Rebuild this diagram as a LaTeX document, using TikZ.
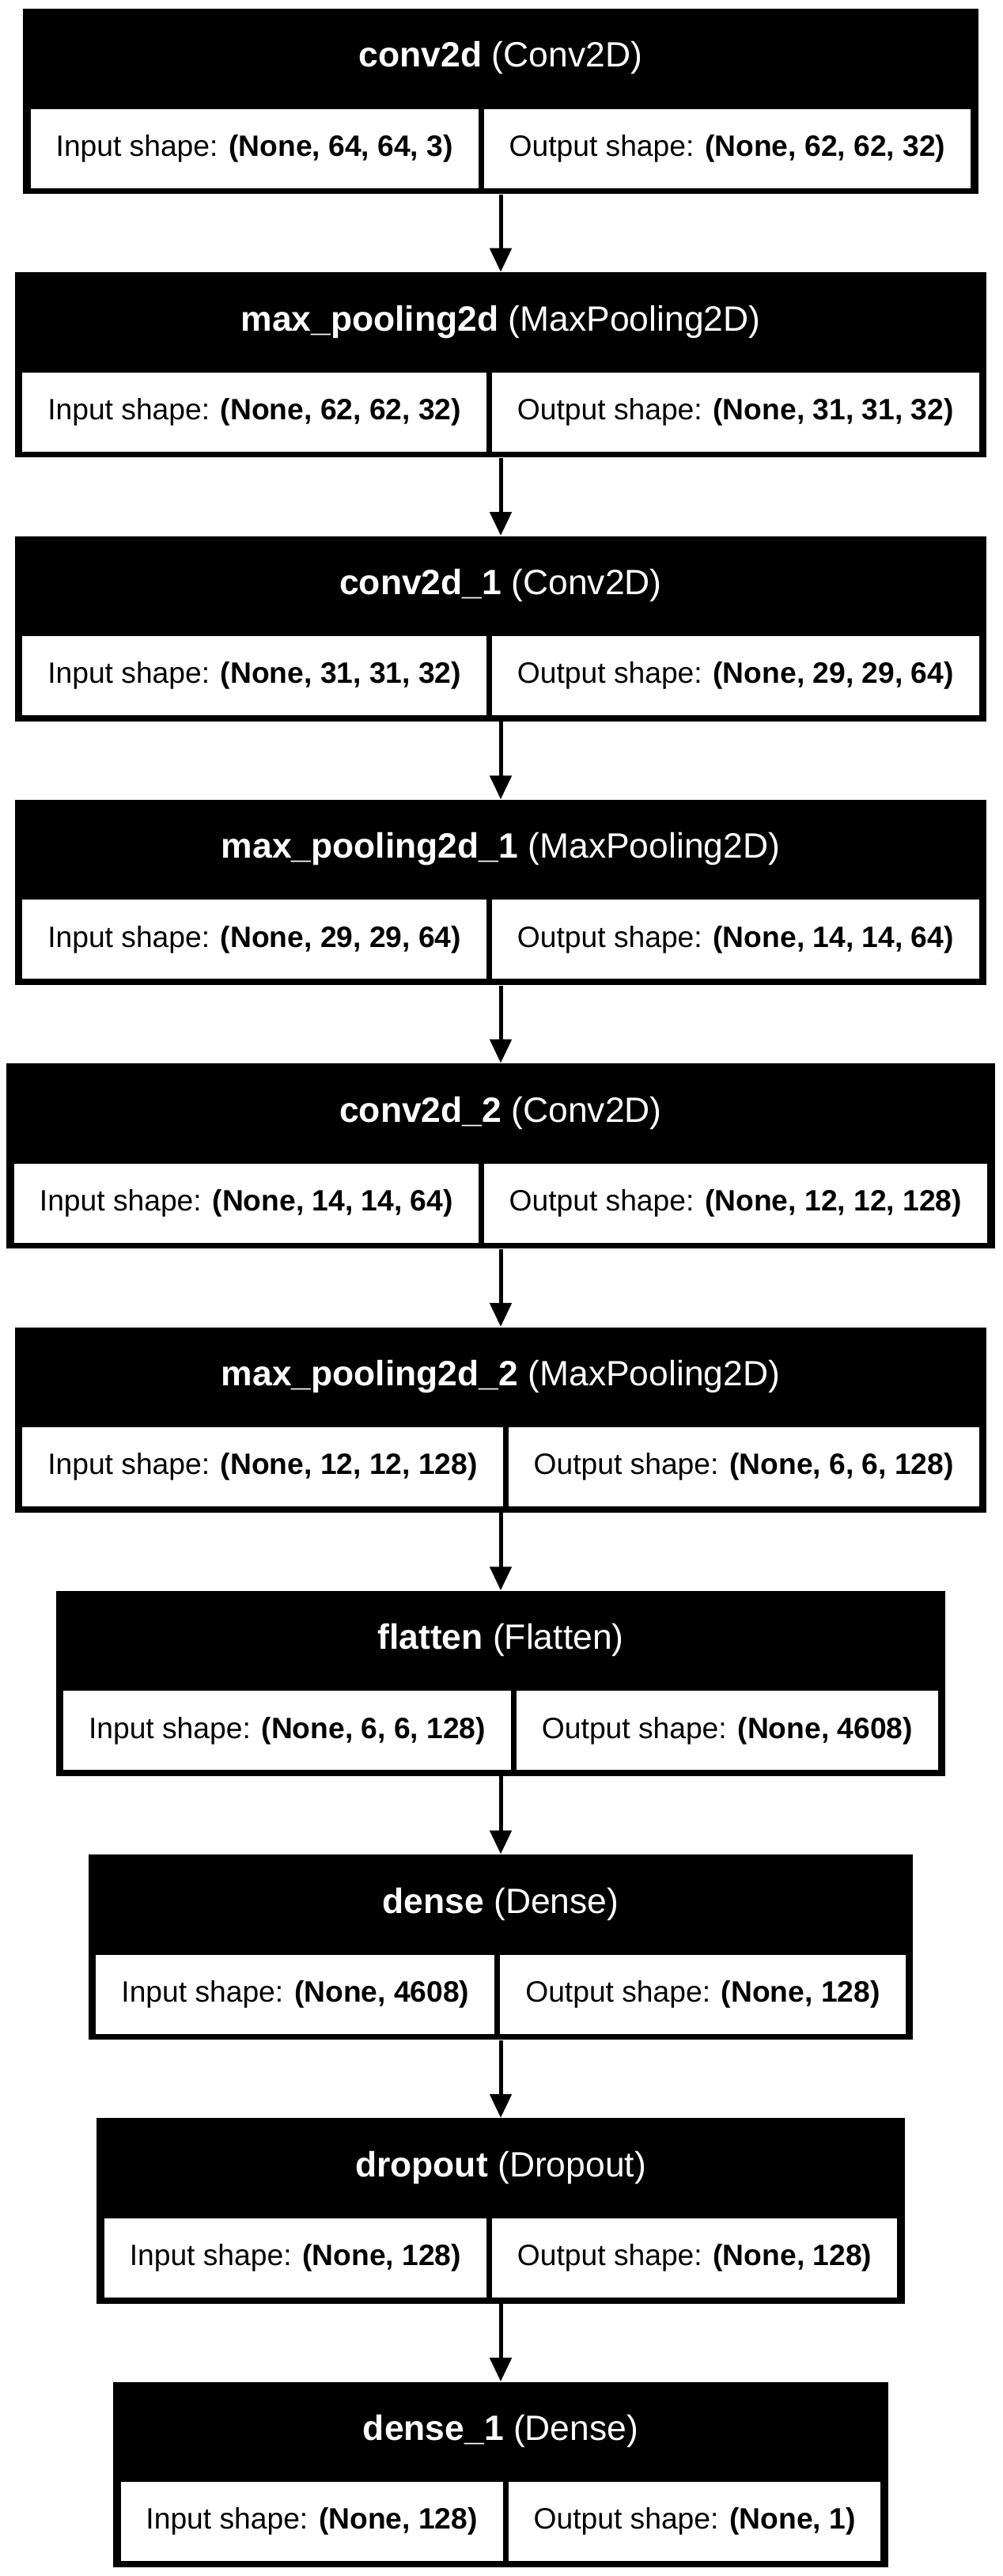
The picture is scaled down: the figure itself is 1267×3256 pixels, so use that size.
\documentclass[tikz,border=0pt]{standalone}
\usepackage{fontspec}
\setmainfont{Liberation Sans}
\usetikzlibrary{positioning,calc,fit,backgrounds,arrows.meta}

\tikzset{
  cell/.style={fill=white, anchor=center, minimum height=36pt, inner xsep=11.5pt, inner ysep=0pt,
    font=\fontsize{13.4pt}{16pt}\selectfont},
  cellrow/.style={column sep=2.52pt, inner sep=0pt, anchor=north, ampersand replacement=\&},
  block/.style={fill=black, inner sep=0pt},
  title/.style={text=white, font=\fontsize{16pt}{19pt}\selectfont},
  flow/.style={line width=1.8pt, -{Triangle[length=10.8pt,width=9.72pt]}}
}

% name, top, layer, class, input, output
\newcommand\layerblock[6]{%
  \matrix (#1-m) [cellrow] at (633,#2+126) {
    \node[cell] (#1-in) {Input shape: \textbf{#5}}; \&
    \node[cell] (#1-out) {Output shape: \textbf{#6}}; \\
  };
  \begin{scope}[on background layer]
    \node[block, fit={($(#1-m.south west)+(-9,7)$) ($(#1-m.north east)+(9,-126)$)}] (#1) {};
  \end{scope}
  \node[title] (#1-t) at ($(#1.north)+(0,63)$) {\textbf{#3} (#4)};
}

\begin{document}
\begin{tikzpicture}[x=0.36pt,y=-0.36pt]
  \useasboundingbox (0,0) rectangle (1267,3256);

  \layerblock{conv}{11}{conv2d}{Conv2D}{(None, 64, 64, 3)}{(None, 62, 62, 32)}
  \layerblock{pool}{344.3}{max\_pooling2d}{MaxPooling2D}{(None, 62, 62, 32)}{(None, 31, 31, 32)}
  \layerblock{conv1}{677.6}{conv2d\_1}{Conv2D}{(None, 31, 31, 32)}{(None, 29, 29, 64)}
  \layerblock{pool1}{1010.9}{max\_pooling2d\_1}{MaxPooling2D}{(None, 29, 29, 64)}{(None, 14, 14, 64)}
  \layerblock{conv2}{1344.2}{conv2d\_2}{Conv2D}{(None, 14, 14, 64)}{(None, 12, 12, 128)}
  \layerblock{pool2}{1677.5}{max\_pooling2d\_2}{MaxPooling2D}{(None, 12, 12, 128)}{(None, 6, 6, 128)}
  \layerblock{flat}{2010.8}{flatten}{Flatten}{(None, 6, 6, 128)}{(None, 4608)}
  \layerblock{dense}{2344.1}{dense}{Dense}{(None, 4608)}{(None, 128)}
  \layerblock{drop}{2677.4}{dropout}{Dropout}{(None, 128)}{(None, 128)}
  \layerblock{dense1}{3010.7}{dense\_1}{Dense}{(None, 128)}{(None, 1)}

  \draw[flow]
  (conv) edge (pool)
  (pool) edge (conv1)
  (conv1) edge (pool1)
  (pool1) edge (conv2)
  (conv2) edge (pool2)
  (pool2) edge (flat)
  (flat) edge (dense)
  (dense) edge (drop)
  (drop) edge (dense1);
\end{tikzpicture}
\end{document}
